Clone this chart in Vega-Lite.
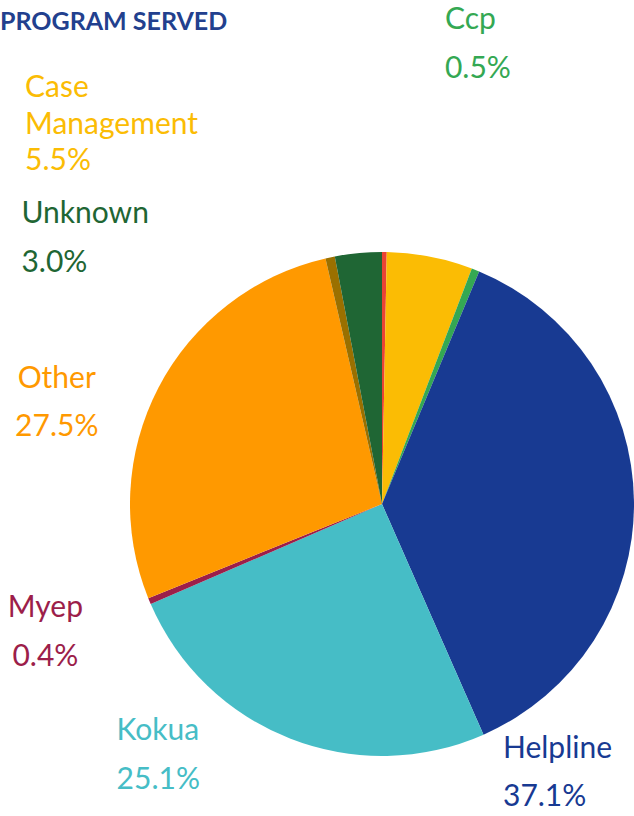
{
  "$schema": "https://vega.github.io/schema/vega-lite/v6.json",
  "width": 504,
  "height": 504,
  "autosize": "none",
  "padding": {"left": 130, "top": 252, "right": 0, "bottom": 60},
  "background": "white",
  "title": {
    "text": "PROGRAM SERVED",
    "anchor": "start",
    "frame": "group",
    "font": "Lato",
    "fontSize": 25,
    "fontWeight": "bold",
    "color": "#22408E",
    "baseline": "alphabetic",
    "dx": -130,
    "dy": 87
  },
  "data": {
    "values": [
      {"program": "Program A", "share": 0.3, "rank": 1},
      {"program": "Case Management", "share": 5.5, "rank": 2},
      {"program": "Ccp", "share": 0.5, "rank": 3},
      {"program": "Helpline", "share": 37.1, "rank": 4},
      {"program": "Kokua", "share": 25.1, "rank": 5},
      {"program": "Myep", "share": 0.4, "rank": 6},
      {"program": "Other", "share": 27.5, "rank": 7},
      {"program": "Program B", "share": 0.6, "rank": 8},
      {"program": "Unknown", "share": 3.0, "rank": 9}
    ]
  },
  "transform": [
    {"calculate": "replace(datum.program, ' ', '\\n') + '\\n' + format(datum.share, '.1f') + '%'", "as": "label"}
  ],
  "encoding": {
    "theta": {"field": "share", "type": "quantitative", "stack": true},
    "order": {"field": "rank", "type": "quantitative"},
    "color": {
      "field": "program",
      "type": "nominal",
      "legend": null,
      "scale": {
        "domain": ["Program A", "Case Management", "Ccp", "Helpline", "Kokua", "Myep", "Other", "Program B", "Unknown"],
        "range": ["#EA4335", "#FBBC04", "#34A853", "#183A92", "#46BDC6", "#9C1E4A", "#FF9900", "#9A7000", "#1F6634"]
      }
    }
  },
  "layer": [
    {"mark": {"type": "arc", "stroke": null}},
    {
      "mark": {"type": "text", "font": "Lato", "fontSize": 30, "align": "left", "baseline": "alphabetic", "lineBreak": "\n", "lineHeight": 36.5, "radius": 331, "dx": -420, "dy": -82},
      "encoding": {"text": {"condition": {"test": "datum.program === 'Case Management'", "field": "label"}, "value": ""}}
    },
    {
      "mark": {"type": "text", "font": "Lato", "fontSize": 30, "align": "left", "baseline": "alphabetic", "lineBreak": "\n", "lineHeight": 48.5, "radius": 466, "dx": -110, "dy": -42},
      "encoding": {"text": {"condition": {"test": "datum.program === 'Ccp'", "field": "label"}, "value": ""}}
    },
    {
      "mark": {"type": "text", "font": "Lato", "fontSize": 30, "align": "left", "baseline": "alphabetic", "lineBreak": "\n", "lineHeight": 48.5, "radius": 123, "dx": -2, "dy": 255},
      "encoding": {"text": {"condition": {"test": "datum.program === 'Helpline'", "field": "label"}, "value": ""}}
    },
    {
      "mark": {"type": "text", "font": "Lato", "fontSize": 30, "align": "left", "baseline": "alphabetic", "lineBreak": "\n", "lineHeight": 48.5, "radius": 316, "dx": -150, "dy": -58},
      "encoding": {"text": {"condition": {"test": "datum.program === 'Kokua'", "field": "label"}, "value": ""}}
    },
    {
      "mark": {"type": "text", "font": "Lato", "fontSize": 30, "align": "center", "baseline": "alphabetic", "lineBreak": "\n", "lineHeight": 48.5, "radius": 354, "dx": -10, "dy": -23},
      "encoding": {"text": {"condition": {"test": "datum.program === 'Myep'", "field": "label"}, "value": ""}}
    },
    {
      "mark": {"type": "text", "font": "Lato", "fontSize": 30, "align": "center", "baseline": "alphabetic", "lineBreak": "\n", "lineHeight": 48.5, "radius": 342, "dx": -22, "dy": 42},
      "encoding": {"text": {"condition": {"test": "datum.program === 'Other'", "field": "label"}, "value": ""}}
    },
    {
      "mark": {"type": "text", "font": "Lato", "fontSize": 30, "align": "left", "baseline": "alphabetic", "lineBreak": "\n", "lineHeight": 49, "radius": 314, "dx": -331, "dy": 32},
      "encoding": {"text": {"condition": {"test": "datum.program === 'Unknown'", "field": "label"}, "value": ""}}
    }
  ],
  "config": {"view": {"stroke": null}}
}
